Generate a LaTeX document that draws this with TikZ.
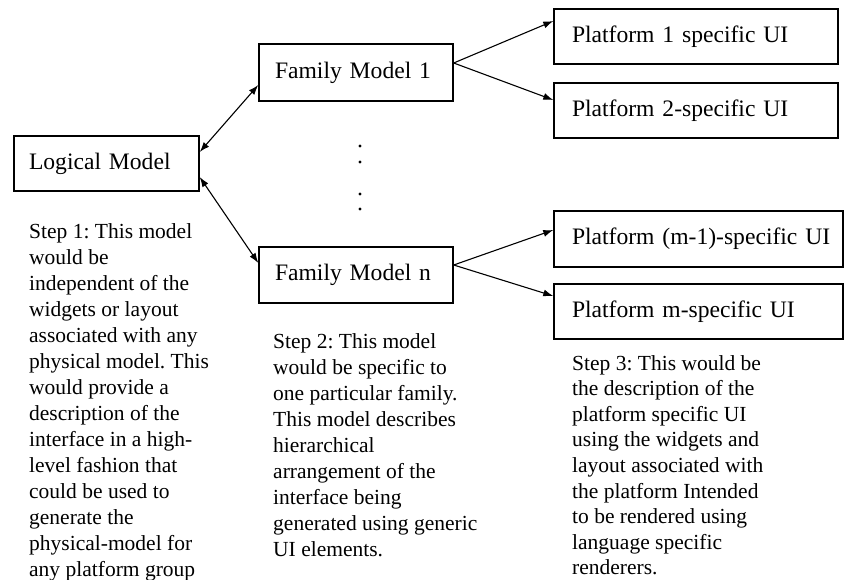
\documentclass[tikz,border=0pt]{standalone}
\usepackage{fontspec}
\setmainfont{Liberation Serif}
\usetikzlibrary{arrows.meta}
\frenchspacing
\begin{document}
\begin{tikzpicture}[x=1pt,y=-1pt,
  box/.style={draw=black, line width=1.4pt, inner ysep=0pt, align=left,
    font=\fontsize{23.6}{28}\selectfont},
  steptext/.style={inner sep=0pt, anchor=north west, align=left,
    font=\fontsize{21.5}{26}\selectfont},
  link/.style={line width=1.1pt, {Latex[length=10pt,width=7pt]}-{Latex[length=10pt,width=7pt]}},
  feed/.style={line width=1.1pt, -{Latex[length=10pt,width=7pt]}},
  dot/.style={circle, fill=black, inner sep=0pt, minimum size=3.4pt}
]
\useasboundingbox (0,0) rectangle (845,580);

% model boxes
\node[box, minimum width=185pt, minimum height=55pt, inner xsep=15pt, text width=155pt]
  (logical) at (106.5,163.5) {Logical Model};
\node[box, minimum width=194pt, minimum height=57pt, inner xsep=16pt, text width=162pt]
  (fam1) at (356,72.5) {Family Model 1};
\node[box, minimum width=194pt, minimum height=56pt, inner xsep=16pt, text width=162pt]
  (famn) at (356,275) {Family Model n};

% platform boxes (labels kept on one line)
\node[box, minimum width=284pt, minimum height=55pt, inner xsep=18pt, text width=248pt]
  (p1) at (696,36.5) {\mbox{Platform 1 specific UI}};
\node[box, minimum width=284pt, minimum height=55pt, inner xsep=18pt, text width=248pt]
  (p2) at (696,110.5) {\mbox{Platform 2-specific UI}};
\node[box, minimum width=289pt, minimum height=56pt, inner xsep=18pt, text width=253pt]
  (pm1) at (698.5,239) {\mbox{Platform (m-1)-specific UI}};
\node[box, minimum width=289pt, minimum height=55pt, inner xsep=18pt, text width=253pt]
  (pm) at (698.5,311.5) {\mbox{Platform m-specific UI}};

% elision dots between the family models
\node[dot] (d1) at (360,146) {};
\node[dot] (d2) at (360,162) {};
\node[dot] (d3) at (360,194) {};
\node[dot] (d4) at (360,209) {};

% connectors
\draw[link] ([yshift=11.5pt]logical.east) -- ([yshift=-12.5pt]fam1.west);
\draw[link] ([yshift=-13.5pt]logical.east) -- ([yshift=12pt]famn.west);
\draw[feed] ([yshift=9.5pt]fam1.east) -- ([yshift=15.5pt]p1.west);
\draw[feed] ([yshift=9.5pt]fam1.east) -- ([yshift=10.5pt]p2.west);
\draw[feed] ([yshift=10pt]famn.east) -- ([yshift=9pt]pm1.west);
\draw[feed] ([yshift=10pt]famn.east) -- ([yshift=15.5pt]pm.west);

% step descriptions
\node[steptext] (s1) at (29,223) {Step 1: This model\\would be\\independent of the\\widgets or layout\\associated with any\\physical model. This\\would provide a\\description of the\\interface in a high-\\level fashion that\\could be used to\\generate the\\physical-model for\\any platform group};
\node[steptext] (s2) at (273,333) {Step 2: This model\\would be specific to\\one particular family.\\This model describes\\hierarchical\\arrangement of the\\interface being\\generated using generic\\UI elements.};
\node[steptext, font=\fontsize{21.5}{25.6}\selectfont] (s3) at (572,355) {Step 3: This would be\\the description of the\\platform specific UI\\using the widgets and\\layout associated with\\the platform Intended\\to be rendered using\\language specific\\renderers.};
\end{tikzpicture}
\end{document}
